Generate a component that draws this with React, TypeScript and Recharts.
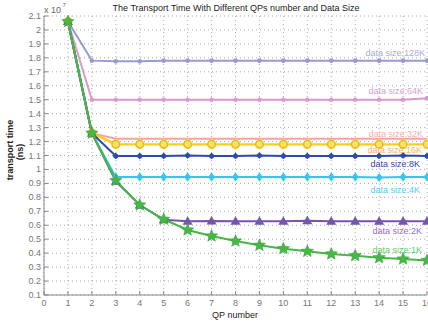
import { LineChart, Line, XAxis, YAxis, CartesianGrid } from 'recharts';

const qp = [1, 2, 3, 4, 5, 6, 7, 8, 9, 10, 11, 12, 13, 14, 15, 16];
const size128K = [2.06, 1.78, 1.775, 1.775, 1.78, 1.78, 1.78, 1.78, 1.78, 1.78, 1.78, 1.78, 1.78, 1.78, 1.78, 1.78];
const size64K = [2.06, 1.5, 1.5, 1.5, 1.5, 1.5, 1.5, 1.5, 1.5, 1.5, 1.5, 1.5, 1.5, 1.5, 1.5, 1.51];
const size32K = [2.06, 1.26, 1.22, 1.22, 1.22, 1.22, 1.22, 1.22, 1.22, 1.22, 1.22, 1.22, 1.22, 1.22, 1.22, 1.22];
const size16K = [2.06, 1.26, 1.18, 1.18, 1.18, 1.18, 1.18, 1.18, 1.18, 1.18, 1.18, 1.18, 1.18, 1.18, 1.18, 1.18];
const size8K = [2.06, 1.26, 1.097, 1.097, 1.097, 1.1, 1.097, 1.097, 1.1, 1.097, 1.097, 1.097, 1.097, 1.097, 1.1, 1.097];
const size4K = [2.06, 1.26, 0.945, 0.945, 0.945, 0.945, 0.945, 0.945, 0.945, 0.945, 0.945, 0.945, 0.945, 0.943, 0.945, 0.945];
const size2K = [2.06, 1.26, 0.915, 0.745, 0.64, 0.628, 0.63, 0.628, 0.628, 0.628, 0.632, 0.628, 0.628, 0.628, 0.628, 0.628];
const size1K = [2.06, 1.26, 0.92, 0.745, 0.643, 0.566, 0.523, 0.487, 0.456, 0.432, 0.413, 0.394, 0.382, 0.367, 0.358, 0.348];

const xTicks = [0, 1, 2, 3, 4, 5, 6, 7, 8, 9, 10, 11, 12, 13, 14, 15, 16];
const yTicks = [0.1, 0.2, 0.3, 0.4, 0.5, 0.6, 0.7, 0.8, 0.9, 1, 1.1, 1.2, 1.3, 1.4, 1.5, 1.6, 1.7, 1.8, 1.9, 2, 2.1];

const data = qp.map((q, i) => ({
  qp: q,
  k128: size128K[i],
  k64: size64K[i],
  k32: size32K[i],
  k16: size16K[i],
  k8: size8K[i],
  k4: size4K[i],
  k2: size2K[i],
  k1: size1K[i],
}));

// key, label, line colour, label colour, marker, label offsets (dx from end, dy from line)
const series = [
  { key: 'k128', name: 'data size:128K', color: '#9a9ad2', text: '#a9acdf', marker: 'dot', dx: 2, dy: -5 },
  { key: 'k64', name: 'data size:64K', color: '#dc98cc', text: '#d99fd0', marker: 'dot', dx: 4, dy: -4 },
  { key: 'k32', name: 'data size:32K', color: '#f4a3a3', text: '#f3b0b0', marker: 'none', dx: 4, dy: -2 },
  { key: 'k16', name: 'data size:16K', color: '#ffcc1a', text: '#f5b26e', marker: 'ring', dx: 5, dy: 9 },
  { key: 'k8', name: 'data size:8K', color: '#2c4ca8', text: '#3446a6', marker: 'asterisk', dx: 7, dy: 11 },
  { key: 'k4', name: 'data size:4K', color: '#33c8f0', text: '#58ccef', marker: 'diamond', dx: 7, dy: 16 },
  { key: 'k2', name: 'data size:2K', color: '#7656aa', text: '#9a6cbf', marker: 'triangle', dx: 5, dy: 13 },
  { key: 'k1', name: 'data size:1K', color: '#45b845', text: '#66c966', marker: 'star', dx: 5, dy: -7 },
];

const FONT = '"Liberation Sans", Arial, sans-serif';

function starPath(cx: number, cy: number, r: number) {
  const pts: string[] = [];
  for (let i = 0; i < 10; i++) {
    const a = -Math.PI / 2 + (i * Math.PI) / 5;
    const rr = i % 2 === 0 ? r : r * 0.45;
    pts.push(`${cx + rr * Math.cos(a)},${cy + rr * Math.sin(a)}`);
  }
  return `M${pts.join('L')}Z`;
}

function Marker({ cx, cy, kind, color }: { cx?: number; cy?: number; kind: string; color: string }) {
  if (cx == null || cy == null) return null;
  switch (kind) {
    case 'dot':
      return <circle cx={cx} cy={cy} r={2.3} fill={color} />;
    case 'ring':
      return <circle cx={cx} cy={cy} r={3.8} fill="#ffdf70" stroke="#f2bd00" strokeWidth={1.6} />;
    case 'asterisk':
      return (
        <g stroke={color} strokeWidth={1.4}>
          <line x1={cx - 3} y1={cy} x2={cx + 3} y2={cy} />
          <line x1={cx} y1={cy - 3} x2={cx} y2={cy + 3} />
          <circle cx={cx} cy={cy} r={1.8} fill={color} />
        </g>
      );
    case 'diamond':
      return <path d={`M${cx},${cy - 4.5}L${cx + 3.5},${cy}L${cx},${cy + 4.5}L${cx - 3.5},${cy}Z`} fill={color} />;
    case 'triangle':
      return <path d={`M${cx},${cy - 5}L${cx + 5},${cy + 3.5}L${cx - 5},${cy + 3.5}Z`} fill={color} />;
    case 'star':
      return <path d={starPath(cx, cy, 6.5)} fill={color} stroke="#3a9a3a" strokeWidth={0.5} />;
    default:
      return null;
  }
}

function XTick({ x, y, payload }: any) {
  return (
    <g>
      <line x1={x} y1={y} x2={x} y2={y - 4} stroke="#888" />
      <text x={x} y={y + 11} textAnchor="middle" fontSize={9} fill="#777" fontFamily={FONT}>
        {payload.value}
      </text>
    </g>
  );
}

function YTick({ x, y, payload }: any) {
  return (
    <g>
      <line x1={x} y1={y} x2={x + 4} y2={y} stroke="#888" />
      <text x={x - 3} y={y + 3} textAnchor="end" fontSize={9} fill="#777" fontFamily={FONT}>
        {payload.value}
      </text>
    </g>
  );
}

export default function App() {
  return (
    <div style={{ position: 'absolute', left: 0, top: 0, width: 428, height: 324, background: '#fff' }}>
      <LineChart width={428} height={324} data={data} margin={{ top: 16, right: 1, left: 0, bottom: 0 }}>
        <CartesianGrid stroke="#aaa" strokeDasharray="1 3" />
        <XAxis
          dataKey="qp"
          type="number"
          domain={[0, 16]}
          ticks={xTicks}
          interval={0}
          height={29}
          tickSize={0}
          tickMargin={0}
          stroke="#888"
          tick={<XTick />}
        />
        <YAxis
          type="number"
          domain={[0.1, 2.1]}
          ticks={yTicks}
          interval={0}
          width={44}
          tickSize={0}
          tickMargin={0}
          stroke="#888"
          tick={<YTick />}
        />
        {series.map((s) => (
          <Line
            key={s.key}
            dataKey={s.key}
            type="linear"
            stroke={s.color}
            strokeWidth={s.key === 'k16' ? 2.4 : 2}
            isAnimationActive={false}
            dot={(p: any) => <Marker key={`${s.key}-${p.index}`} cx={p.cx} cy={p.cy} kind={s.marker} color={s.color} />}
            activeDot={false}
            label={(p: any) =>
              p.index === qp.length - 1 ? (
                <text
                  key={`${s.key}-lbl`}
                  x={p.x - s.dx}
                  y={p.y + s.dy}
                  textAnchor="end"
                  fontSize={9}
                  fill={s.text}
                  fontFamily={FONT}
                >
                  {s.name}
                </text>
              ) : (
                <g key={`${s.key}-l${p.index}`} />
              )
            }
          />
        ))}
        <text x={236} y={11} textAnchor="middle" fontSize={9} fill="#222" fontFamily={FONT}>
          The Transport Time With Different QPs number and Data Size
        </text>
        <text x={44} y={13} fontSize={9} fill="#666" fontFamily={FONT}>
          x 10
        </text>
        <text x={62.5} y={7} fontSize={6} fill="#666" fontFamily={FONT}>
          7
        </text>
        <text x={235} y={318} textAnchor="middle" fontSize={9} fill="#222" fontFamily={FONT}>
          QP number
        </text>
        <text
          x={0}
          y={0}
          transform="translate(13,150) rotate(-90)"
          textAnchor="middle"
          fontSize={9}
          fontWeight="bold"
          fill="#222"
          fontFamily={FONT}
        >
          transport time
        </text>
        <text
          x={0}
          y={0}
          transform="translate(23,152) rotate(-90)"
          textAnchor="middle"
          fontSize={9}
          fontWeight="bold"
          fill="#222"
          fontFamily={FONT}
        >
          (ns)
        </text>
      </LineChart>
    </div>
  );
}
